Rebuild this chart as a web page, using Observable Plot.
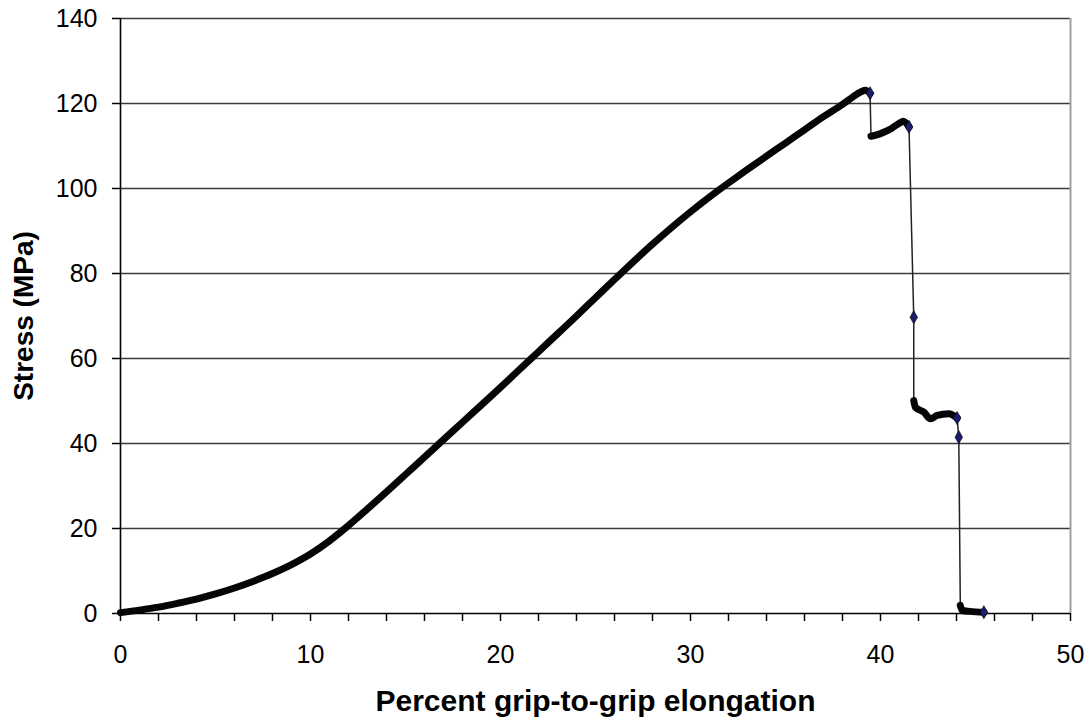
<!DOCTYPE html>
<html>
<head>
<meta charset="utf-8">
<script src="https://cdn.jsdelivr.net/npm/d3@7"></script>
<script src="https://cdn.jsdelivr.net/npm/@observablehq/plot@0.6"></script>
<style>
  html, body { margin: 0; padding: 0; background: white; }
  #chart svg { display: block; }
</style>
</head>
<body>
<div id="chart"></div>
<script>
// Percent grip-to-grip elongation (x) and Stress in MPa (y)
const strain = [
  0, 1, 2, 3, 4, 5, 6, 7, 8, 9,
  10, 11, 12, 13, 14, 15, 16, 17, 18, 19,
  20, 21, 22, 23, 24, 25, 26, 27, 28, 29,
  30, 31, 32, 33, 34, 35, 36, 37, 38,
  38.5, 39, 39.2, 39.45,
  39.5, 39.8, 40.2, 40.6, 41.0, 41.2, 41.5,
  41.75,
  41.75, 41.84, 42.28, 42.63, 42.98, 43.6, 44.03,
  44.12,
  44.2, 44.3, 44.7, 45.44
];
const stress = [
  0.2, 0.8, 1.5, 2.4, 3.4, 4.6, 6.0, 7.6, 9.4, 11.5,
  14.0, 17.1, 20.7, 24.6, 28.6, 32.7, 36.8, 40.9, 45.0, 49.1,
  53.2, 57.4, 61.6, 65.8, 70.0, 74.3, 78.6, 82.8, 86.9, 90.8,
  94.5, 98.0, 101.3, 104.5, 107.6, 110.7, 113.8, 116.9, 119.8,
  121.4, 122.8, 123.1, 122.4,
  112.3, 112.6, 113.3, 114.2, 115.4, 115.8, 114.5,
  69.7,
  50.1, 48.5, 47.4, 45.8, 46.6, 47.0, 46.0,
  41.5,
  1.9, 0.7, 0.5, 0.3
];
const phase = [
  ...Array(43).fill("loading"),
  ...Array(7).fill("plateau1"),
  "jump1",
  ...Array(7).fill("plateau2"),
  "jump2",
  ...Array(4).fill("tail")
];
const xTicks = d3.range(0, 51, 2);
const yTicks = d3.range(0, 141, 20);
const xTitle = "Percent grip-to-grip elongation";
const yTitle = "Stress (MPa)";

const rows = strain.map((x, i) => ({x, y: stress[i], phase: phase[i]}));
const dense = rows.filter(d => !d.phase.startsWith("jump"));
const markers = rows.filter((d, i) => d.phase.startsWith("jump") || !rows[i + 1] || rows[i + 1].phase !== d.phase);

const chart = Plot.plot({
  width: 1091,
  height: 726,
  marginLeft: 120,
  marginRight: 21,
  marginTop: 18,
  marginBottom: 113,
  style: {fontFamily: "'Liberation Sans', Arial, sans-serif", background: "white", color: "black"},
  x: {domain: [0, 50]},
  y: {domain: [0, 140]},
  marks: [
    Plot.ruleY(yTicks.filter(d => d > 0), {stroke: "#3c3c3c", strokeWidth: 1.6}),
    Plot.ruleX([50], {stroke: "#a0a0a0", strokeWidth: 2}),
    Plot.axisX(xTicks, {
      tickSize: 8, tickPadding: 24, fontSize: 25, strokeWidth: 1.5,
      tickFormat: d => d % 10 === 0 ? String(d) : "", label: null
    }),
    Plot.axisY(yTicks, {tickSize: 8, tickPadding: 15, fontSize: 25, strokeWidth: 1.5, label: null}),
    Plot.ruleY([0], {stroke: "black", strokeWidth: 1.6}),
    Plot.ruleX([0], {stroke: "black", strokeWidth: 1.6}),
    Plot.line(rows, {x: "x", y: "y", stroke: "#222", strokeWidth: 1.5}),
    Plot.line(dense, {x: "x", y: "y", z: "phase", curve: "monotone-x", stroke: "#050508", strokeWidth: 7, strokeLinejoin: "round", strokeLinecap: "round"}),
    Plot.dot(markers, {x: "x", y: "y", symbol: "diamond", r: 4, fill: "#1c1c6a", stroke: "#000", strokeWidth: 0.6}),
    Plot.text([xTitle], {frameAnchor: "bottom", dy: 97, fontSize: 30, fontWeight: "bold", fill: "black"}),
    Plot.text([yTitle], {frameAnchor: "left", dx: -96, rotate: -90, textAnchor: "middle", fontSize: 28, fontWeight: "bold", fill: "black"})
  ]
});
document.getElementById("chart").append(chart);
</script>
</body>
</html>
